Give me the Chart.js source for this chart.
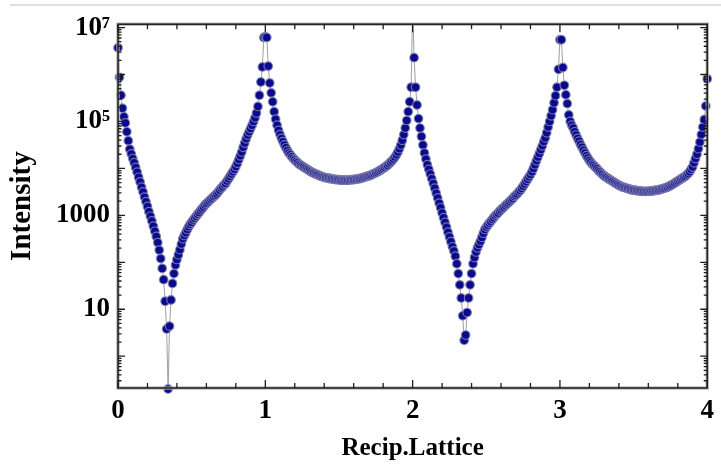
<!DOCTYPE html>
<html>
<head>
<meta charset="utf-8">
<script src="https://cdn.jsdelivr.net/npm/chart.js@4.4.1/dist/chart.umd.min.js"></script>
<style>
  html, body { margin: 0; padding: 0; background: #ffffff; }
  #wrap { position: relative; width: 721px; height: 468px; }
  #topline { position: absolute; left: 10px; top: 4px; width: 711px; height: 2px; background: #dedede; }
  canvas { position: absolute; left: 0; top: 0; }
</style>
</head>
<body>
<div id="wrap">
  <canvas id="c" width="721" height="468"></canvas>
  <div id="topline"></div>
</div>
<script>
// Sampling of the reciprocal-lattice axis (x = xStart + i*xStep)
const xStart = 0;
const xStep = 0.01;

// Intensity, one value per sample (x = 0.00 ... 0.99)
const intensity0to1 = [
  3.72e6, 8.71e5, 3.63e5, 1.91e5, 1.26e5, 9.33e4, 6.03e4, 3.89e4, 2.57e4, 2.04e4,
  1.62e4, 1.32e4, 1.05e4, 8.32e3, 6.46e3, 5.13e3, 3.98e3, 3.16e3, 2.45e3, 1.95e3,
  1.55e3, 1.20e3, 955, 759, 589, 457, 355, 263, 182, 120,
  74.1, 42.7, 14.8, 3.80, 0.2, 4.37, 15.8, 35.5, 57.5, 87.1,
  115, 145, 186, 245, 316, 372, 427, 501, 575, 646,
  708, 794, 871, 955, 1.05e3, 1.15e3, 1.26e3, 1.38e3, 1.51e3, 1.66e3,
  1.78e3, 1.91e3, 2.04e3, 2.19e3, 2.34e3, 2.51e3, 2.69e3, 2.88e3, 3.16e3, 3.47e3,
  3.80e3, 4.07e3, 4.47e3, 4.79e3, 5.37e3, 6.03e3, 6.76e3, 7.59e3, 8.51e3, 9.55e3,
  1.10e4, 1.29e4, 1.55e4, 1.86e4, 2.24e4, 2.82e4, 3.47e4, 4.27e4, 5.13e4, 6.03e4,
  7.08e4, 8.32e4, 1.00e5, 1.20e5, 1.51e5, 2.09e5, 3.63e5, 6.92e5, 1.45e6, 6.17e6
];
// x = 1.00 ... 1.99
const intensity1to2 = [
  6.31e6, 6.17e6, 1.51e6, 6.61e5, 4.07e5, 2.63e5, 1.62e5, 1.12e5, 8.32e4, 6.46e4,
  5.25e4, 4.37e4, 3.72e4, 3.16e4, 2.75e4, 2.40e4, 2.14e4, 1.95e4, 1.78e4, 1.62e4,
  1.51e4, 1.41e4, 1.32e4, 1.23e4, 1.17e4, 1.12e4, 1.07e4, 1.02e4, 9.77e3, 9.33e3,
  8.91e3, 8.51e3, 8.13e3, 7.94e3, 7.59e3, 7.41e3, 7.24e3, 6.92e3, 6.76e3, 6.61e3,
  6.46e3, 6.31e3, 6.31e3, 6.17e3, 6.03e3, 6.03e3, 5.89e3, 5.89e3, 5.75e3, 5.75e3,
  5.75e3, 5.62e3, 5.62e3, 5.62e3, 5.62e3, 5.62e3, 5.62e3, 5.62e3, 5.75e3, 5.75e3,
  5.75e3, 5.89e3, 5.89e3, 6.03e3, 6.03e3, 6.17e3, 6.31e3, 6.46e3, 6.61e3, 6.76e3,
  6.92e3, 7.08e3, 7.24e3, 7.59e3, 7.76e3, 8.13e3, 8.32e3, 8.71e3, 9.12e3, 9.55e3,
  1.00e4, 1.05e4, 1.12e4, 1.17e4, 1.26e4, 1.35e4, 1.45e4, 1.58e4, 1.74e4, 1.95e4,
  2.24e4, 2.63e4, 3.16e4, 3.98e4, 5.25e4, 7.24e4, 1.05e5, 1.62e5, 2.63e5, 5.37e5
];
// x = 2.00 ... 2.99
const intensity2to3 = [
  3.0e7, 2.29e6, 5.37e5, 2.24e5, 1.15e5, 7.24e4, 4.79e4, 3.16e4, 2.14e4, 1.58e4,
  1.20e4, 9.55e3, 7.59e3, 6.03e3, 4.79e3, 3.80e3, 2.95e3, 2.34e3, 1.82e3, 1.45e3,
  1.12e3, 891, 708, 562, 437, 347, 275, 214, 174, 135,
  93.3, 57.5, 33.1, 17.4, 7.24, 2.19, 2.82, 8.51, 17.4, 33.1,
  57.5, 93.3, 126, 166, 204, 240, 282, 339, 417, 501,
  562, 617, 676, 741, 813, 891, 977, 1.05e3, 1.12e3, 1.23e3,
  1.32e3, 1.41e3, 1.51e3, 1.62e3, 1.74e3, 1.86e3, 2.00e3, 2.14e3, 2.29e3, 2.51e3,
  2.69e3, 2.88e3, 3.16e3, 3.39e3, 3.72e3, 4.17e3, 4.68e3, 5.25e3, 5.89e3, 6.61e3,
  7.41e3, 8.51e3, 1.00e4, 1.20e4, 1.45e4, 1.74e4, 2.09e4, 2.51e4, 3.02e4, 3.72e4,
  4.47e4, 5.75e4, 7.59e4, 1.00e5, 1.32e5, 1.78e5, 2.51e5, 3.55e5, 5.37e5, 1.29e6
];
// x = 3.00 ... 4.00
const intensity3to4 = [
  5.50e6, 5.50e6, 1.41e6, 5.89e5, 3.72e5, 2.40e5, 1.38e5, 1.00e5, 8.32e4, 7.24e4,
  6.03e4, 5.13e4, 4.37e4, 3.80e4, 3.24e4, 2.82e4, 2.45e4, 2.14e4, 1.86e4, 1.66e4,
  1.48e4, 1.35e4, 1.23e4, 1.15e4, 1.07e4, 1.00e4, 9.12e3, 8.51e3, 7.94e3, 7.41e3,
  6.92e3, 6.61e3, 6.31e3, 6.03e3, 5.75e3, 5.50e3, 5.25e3, 5.01e3, 4.79e3, 4.57e3,
  4.37e3, 4.27e3, 4.07e3, 3.98e3, 3.89e3, 3.80e3, 3.72e3, 3.63e3, 3.55e3, 3.47e3,
  3.47e3, 3.39e3, 3.39e3, 3.31e3, 3.31e3, 3.31e3, 3.24e3, 3.24e3, 3.24e3, 3.24e3,
  3.24e3, 3.31e3, 3.31e3, 3.31e3, 3.39e3, 3.39e3, 3.47e3, 3.47e3, 3.55e3, 3.63e3,
  3.72e3, 3.80e3, 3.89e3, 3.98e3, 4.17e3, 4.27e3, 4.47e3, 4.68e3, 4.90e3, 5.13e3,
  5.37e3, 5.62e3, 5.89e3, 6.17e3, 6.46e3, 6.76e3, 7.24e3, 7.76e3, 8.51e3, 9.55e3,
  1.07e4, 1.32e4, 1.62e4, 2.00e4, 2.63e4, 3.63e4, 5.25e4, 7.59e4, 1.10e5, 2.14e5,
  8.13e5
];

// Tick labels
const xTickValues = [0, 1, 2, 3, 4];
const xTickLabels = ['0', '1', '2', '3', '4'];
const yTickValues = [10, 1000, 1e5, 1e7];
const yTickLabels = ['10', '1000', '10\u2075', '10\u2077'];

const xTitle = 'Recip.Lattice';
const yTitle = 'Intensity';

// Build the point table from the arrays
const intensity = [].concat(intensity0to1, intensity1to2, intensity2to3, intensity3to4);
const points = intensity.map((v, i) => ({ x: +(xStart + i * xStep).toFixed(2), y: v }));

const serif = "'Liberation Serif', 'Times New Roman', 'DejaVu Serif', serif";

const framePlugin = {
  id: 'frame',
  afterDatasetsDraw(chart) {
    const { ctx, chartArea: a, scales } = chart;
    const xs = scales.x, ys = scales.y;
    ctx.save();
    const w = a.right - a.left, h = a.bottom - a.top;
    ctx.strokeStyle = 'rgba(175,175,175,0.85)';
    ctx.lineWidth = 3.5;
    ctx.strokeRect(a.left, a.top, w, h);
    ctx.strokeStyle = '#1e1e1e';
    ctx.lineWidth = 1.5;
    ctx.strokeRect(a.left, a.top, w, h);
    ctx.beginPath();
    ctx.lineWidth = 1.3;
    for (let i = 0; i <= 20; i++) {
      const px = xs.getPixelForValue(i * 0.2);
      const len = (i % 5 === 0) ? 8 : 5;
      ctx.moveTo(px, a.bottom); ctx.lineTo(px, a.bottom - len);
      ctx.moveTo(px, a.top); ctx.lineTo(px, a.top + len);
    }
    for (let e = -1; e <= 7; e++) {
      for (let m = 1; m <= 9; m++) {
        const v = m * Math.pow(10, e);
        if (v < ys.min || v > ys.max) continue;
        const py = ys.getPixelForValue(v);
        const len = (m === 1) ? 7 : 3.5;
        ctx.moveTo(a.left, py); ctx.lineTo(a.left + len, py);
        ctx.moveTo(a.right, py); ctx.lineTo(a.right - len, py);
      }
    }
    ctx.stroke();
    ctx.restore();
  }
};

new Chart(document.getElementById('c'), {
  type: 'scatter',
  data: {
    datasets: [{
      data: points,
      showLine: true,
      borderColor: 'rgba(150,150,150,0.9)',
      borderWidth: 1,
      pointRadius: 4.3,
      pointBorderWidth: 1.2,
      pointBackgroundColor: '#0a0a8e',
      pointBorderColor: 'rgba(130,130,175,0.85)',
      clip: { left: 6, right: 6, top: 0, bottom: 6 }
    }]
  },
  options: {
    responsive: false,
    animation: false,
    devicePixelRatio: 1,
    layout: { padding: { left: 0, right: 10, top: 18, bottom: 0 } },
    plugins: { legend: { display: false }, tooltip: { enabled: false } },
    scales: {
      x: {
        type: 'linear',
        min: 0, max: 4,
        grid: { display: false, drawTicks: false },
        border: { display: false },
        afterBuildTicks: (s) => { s.ticks = xTickValues.map(v => ({ value: v })); },
        afterFit: (s) => { s.height = 80; },
        ticks: {
          padding: 7,
          color: '#000',
          maxRotation: 0,
          font: { family: serif, size: 27, weight: 'bold' },
          callback: (v) => { const k = xTickValues.indexOf(v); return k >= 0 ? xTickLabels[k] : ''; }
        },
        title: {
          display: true, text: xTitle, color: '#000',
          font: { family: serif, size: 25, weight: 'bold' },
          padding: { top: 0, bottom: 4 }
        }
      },
      y: {
        type: 'logarithmic',
        min: 0.21, max: 1.18e7,
        grid: { display: false, drawTicks: false },
        border: { display: false },
        afterBuildTicks: (s) => { s.ticks = yTickValues.map(v => ({ value: v })); },
        afterFit: (s) => { s.width = 118; },
        ticks: {
          padding: 8,
          color: '#000',
          font: { family: serif, size: 27, weight: 'bold' },
          callback: (v) => { const k = yTickValues.indexOf(v); return k >= 0 ? yTickLabels[k] : ''; }
        },
        title: {
          display: true, text: yTitle, color: '#000',
          font: { family: serif, size: 29, weight: 'bold' },
          padding: { top: 5, bottom: 0 }
        }
      }
    }
  },
  plugins: [framePlugin]
});
</script>
</body>
</html>
